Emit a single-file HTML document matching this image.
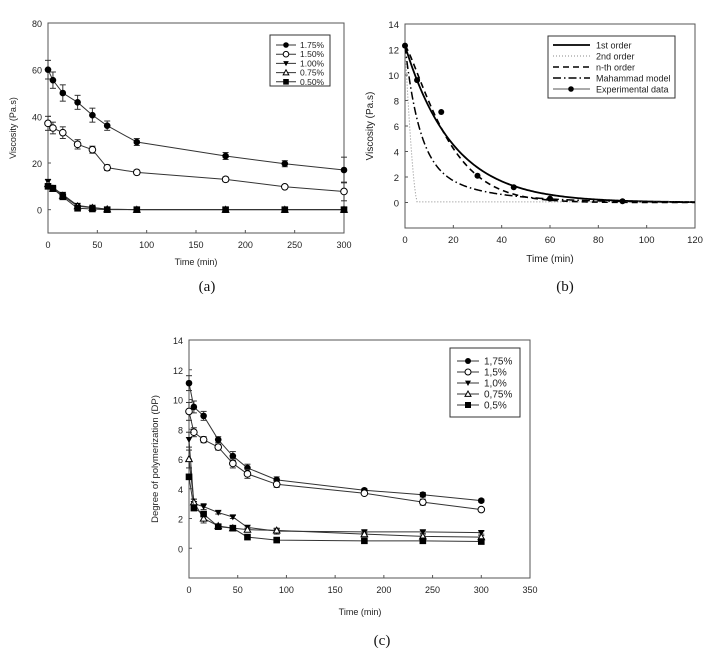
<!DOCTYPE html>
<html><head><meta charset="utf-8"><style>
body{margin:0;background:#fff;width:724px;height:657px;overflow:hidden}
svg{display:block}
text{font-family:"Liberation Sans",sans-serif;fill:#222}
.cap{font-family:"Liberation Serif",serif;font-size:15px;fill:#111}
</style></head><body>
<svg id="s" width="724" height="657" xmlns="http://www.w3.org/2000/svg"></svg>
<script>
const S=document.getElementById('s');let h='';
function ax(o){const{L,R,T,B,x0,x1,y0,y1,xt,yt}=o;
 const X=v=>L+(v-x0)/(x1-x0)*(R-L),Y=v=>B-(v-y0)/(y1-y0)*(B-T);
 h+=`<rect x="${L}" y="${T}" width="${R-L}" height="${B-T}" fill="none" stroke="#555" stroke-width="1"/>`;
 xt.forEach(v=>{h+=`<line x1="${X(v)}" y1="${B}" x2="${X(v)}" y2="${B-3}" stroke="#555"/><text x="${X(v)}" y="${B+15}" font-size="${o.fs}" text-anchor="middle">${v}</text>`});
 yt.forEach(v=>{h+=`<line x1="${L}" y1="${Y(v)}" x2="${L+3}" y2="${Y(v)}" stroke="#555"/><text x="${L-6}" y="${Y(v)+4}" font-size="${o.fs}" text-anchor="end">${v}</text>`});
 return[X,Y];}
function mk(t,x,y,r){r=r||3.3;
 if(t=='c')return`<circle cx="${x}" cy="${y}" r="${r}" fill="#000"/>`;
 if(t=='o')return`<circle cx="${x}" cy="${y}" r="${r}" fill="#fff" stroke="#000"/>`;
 if(t=='v')return`<polygon points="${x-r},${y-r*0.8} ${x+r},${y-r*0.8} ${x},${y+r}" fill="#000"/>`;
 if(t=='^')return`<polygon points="${x-r},${y+r*0.8} ${x+r},${y+r*0.8} ${x},${y-r}" fill="#fff" stroke="#000"/>`;
 if(t=='s')return`<rect x="${x-r}" y="${y-r}" width="${2*r}" height="${2*r}" fill="#000"/>`;}
function series(X,Y,ts,ys,m,err){let p=ts.map((t,i)=>X(t)+','+Y(ys[i])).join(' ');
 h+=`<polyline points="${p}" fill="none" stroke="#333" stroke-width="1"/>`;
 ts.forEach((t,i)=>{if(err&&err[i]){const x=X(t);h+=`<line x1="${x}" y1="${Y(ys[i]-err[i])}" x2="${x}" y2="${Y(ys[i]+err[i])}" stroke="#333"/><line x1="${x-3}" y1="${Y(ys[i]-err[i])}" x2="${x+3}" y2="${Y(ys[i]-err[i])}" stroke="#333"/><line x1="${x-3}" y1="${Y(ys[i]+err[i])}" x2="${x+3}" y2="${Y(ys[i]+err[i])}" stroke="#333"/>`}
 h+=mk(m,X(t),Y(ys[i]));});}
const T=[0,5,15,30,45,60,90,180,240,300];
// (a)
let[X,Y]=ax({L:48,R:344,T:23,B:233,x0:0,x1:300,y0:-10,y1:80,xt:[0,50,100,150,200,250,300],yt:[0,20,40,60,80],fs:9});
series(X,Y,T,[60,55.5,50,46,40.5,36,29,23,19.7,17],'c',[4,3.5,3.5,3,3,2,1.5,1.5,1.3,5.5]);
series(X,Y,T,[37,35,33,28,25.7,18,16,13,9.8,7.8],'o',[3,2.5,2.5,2,1.5,1.2,1,1,0.6,4]);
series(X,Y,T,[12,9.5,6.5,1.8,1,0.2,0,0,0,0],'v',[1,0.8,0.6,0.3,0,0,0,0,0,0]);
series(X,Y,T,[11,9,6,1.5,0.8,0.2,0,0,0,0],'^');
series(X,Y,T,[10,9,5.5,0.6,0.3,0,0,0,0,0],'s');
h+=`<text x="16" y="128" font-size="9" transform="rotate(-90 16 128)" text-anchor="middle">Viscosity (Pa.s)</text>`;
h+=`<text x="196" y="265" font-size="9" text-anchor="middle">Time (min)</text><text class="cap" x="207" y="291" text-anchor="middle">(a)</text>`;
h+=`<rect x="270" y="35" width="60" height="51" fill="#fff" stroke="#333"/>`;
['1.75%','1.50%','1.00%','0.75%','0.50%'].forEach((l,i)=>{const y=45+i*9.2;const m='cov^s'[i];h+=`<line x1="276" y1="${y}" x2="296" y2="${y}" stroke="#333"/>`+mk(m,286,y,2.8)+`<text x="300" y="${y+3}" font-size="8.5">${l}</text>`});
// (b)
[X,Y]=ax({L:405,R:695,T:24,B:228,x0:0,x1:120,y0:-2,y1:14,xt:[0,20,40,60,80,100,120],yt:[0,2,4,6,8,10,12,14],fs:9.5});
function curve(f,st){let p=[];for(let t=0;t<=120;t+=0.5)p.push(X(t)+','+Y(f(t)));h+=`<polyline points="${p.join(' ')}" fill="none" ${st}/>`;}
curve(t=>12.3*Math.exp(-t/20),'stroke="#000" stroke-width="1.8"');
curve(t=>t<5?12.2*(1-t/5)**1.5+0.1:0.05,'stroke="#888" stroke-width="1" stroke-dasharray="1,2"');
curve(t=>12.3*Math.exp(-Math.pow(t/19,1.25)),'stroke="#000" stroke-width="1.6" stroke-dasharray="6,4"');
curve(t=>12.3*(0.75*Math.exp(-t/6)+0.25*Math.exp(-t/25)),'stroke="#000" stroke-width="1.5" stroke-dasharray="8,3,1.5,3"');
[[0,12.3],[5,9.6],[15,7.1],[30,2.1],[45,1.2],[60,0.3],[90,0.1]].forEach(d=>h+=mk('c',X(d[0]),Y(d[1]),3));
h+=`<text x="373" y="126" font-size="10" transform="rotate(-90 373 126)" text-anchor="middle">Viscosity (Pa.s)</text>`;
h+=`<text x="550" y="262" font-size="10" text-anchor="middle">Time (min)</text><text class="cap" x="565" y="291" text-anchor="middle">(b)</text>`;
h+=`<rect x="548" y="36" width="127" height="62" fill="#fff" stroke="#333"/>`;
const lb=[['1st order','stroke="#000" stroke-width="1.8"'],['2nd order','stroke="#888" stroke-dasharray="1,2"'],['n-th order','stroke="#000" stroke-width="1.6" stroke-dasharray="6,4"'],['Mahammad model','stroke="#000" stroke-width="1.5" stroke-dasharray="8,3,1.5,3"'],['Experimental data','stroke="#555"']];
lb.forEach((l,i)=>{const y=45+i*11;h+=`<line x1="553" y1="${y}" x2="590" y2="${y}" ${l[1]}/>`;if(i==4)h+=mk('c',571,y,2.8);h+=`<text x="596" y="${y+3.5}" font-size="9">${l[0]}</text>`});
// (c)
[X,Y]=ax({L:189,R:530,T:340,B:578,x0:0,x1:350,y0:-2,y1:14,xt:[0,50,100,150,200,250,300,350],yt:[0,2,4,6,8,10,12,14],fs:9});
series(X,Y,T,[11.1,9.5,8.9,7.3,6.2,5.4,4.6,3.9,3.6,3.2],'c',[0.5,0.4,0.3,0.2,0.3,0.25,0.2,0.1,0.15,0.1]);
series(X,Y,T,[9.2,7.8,7.3,6.8,5.7,5.0,4.3,3.7,3.1,2.6],'o',[0.6,0.3,0.2,0.2,0.3,0.3,0.2,0.1,0.2,0.1]);
series(X,Y,T,[7.3,3.0,2.8,2.4,2.1,1.4,1.15,1.1,1.1,1.05],'v',[0.5,0.3,0.2,0.1,0.1,0.1,0.2,0.1,0.1,0.1]);
series(X,Y,T,[6.0,3.1,2.0,1.5,1.35,1.25,1.2,0.95,0.8,0.75],'^',[0.6,0.2,0.3,0.1,0.1,0.1,0.1,0.1,0.1,0.1]);
series(X,Y,T,[4.8,2.7,2.3,1.45,1.35,0.75,0.55,0.5,0.5,0.45],'s');
h+=`<text x="158" y="459" font-size="9.5" transform="rotate(-90 158 459)" text-anchor="middle">Degree of polymerization (DP)</text>`;
h+=`<text x="360" y="615" font-size="9" text-anchor="middle">Time (min)</text><text class="cap" x="382" y="645" text-anchor="middle">(c)</text>`;
h+=`<rect x="450" y="348" width="70" height="69" fill="#fff" stroke="#333"/>`;
['1,75%','1,5%','1,0%','0,75%','0,5%'].forEach((l,i)=>{const y=361+i*11;const m='cov^s'[i];h+=`<line x1="457" y1="${y}" x2="479" y2="${y}" stroke="#333"/>`+mk(m,468,y,3)+`<text x="484" y="${y+3.5}" font-size="10">${l}</text>`});
S.innerHTML=h;
</script>
</body></html>
